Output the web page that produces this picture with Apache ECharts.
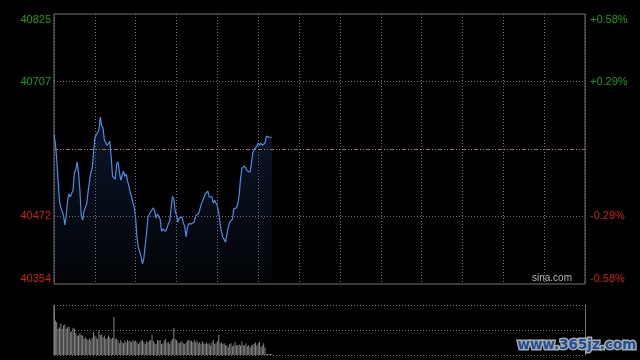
<!DOCTYPE html>
<html><head><meta charset="utf-8">
<script src="https://cdn.jsdelivr.net/npm/echarts@6/dist/echarts.min.js"></script>
<style>html,body{margin:0;padding:0;background:#000;}#c{width:640px;height:360px;}</style>
</head><body><div id="c"></div>
<script>
const prevClose = 40589.5;
const priceMin = 40354;
const priceMax = 40825;
const sessionMinutes = 390;
const tickValues = [40354, 40472, 40707, 40825];
const leftTickLabels = ['40354', '40472', '40707', '40825'];
const rightTickLabels = ['-0.58%', '-0.29%', '+0.29%', '+0.58%'];

const prices = [
  40614, 40600, 40572, 40535, 40500, 40487, 40481, 40473, 40457, 40474,
  40500, 40511, 40506, 40504, 40518, 40549, 40553, 40567, 40549, 40518,
  40474, 40466, 40481, 40483, 40494, 40514, 40532, 40548, 40555, 40581,
  40609, 40614, 40612, 40623, 40645, 40630, 40626, 40605, 40602, 40596,
  40595, 40603, 40576, 40542, 40539, 40537, 40563, 40567, 40551, 40535,
  40535, 40551, 40542, 40546, 40534, 40525, 40514, 40506, 40495, 40487,
  40467, 40434, 40417, 40410, 40401, 40389, 40399, 40422, 40443, 40471,
  40473, 40480, 40478, 40487, 40481, 40469, 40476, 40473, 40467, 40446,
  40450, 40448, 40446, 40452, 40459, 40464, 40485, 40507, 40502, 40481,
  40474, 40462, 40469, 40471, 40471, 40460, 40455, 40436, 40453, 40459,
  40457, 40459, 40462, 40462, 40473, 40471, 40476, 40483, 40492, 40494,
  40504, 40511, 40514, 40516, 40506, 40504, 40506, 40495, 40500, 40499,
  40490, 40478, 40459, 40445, 40436, 40433, 40427, 40441, 40453, 40462,
  40460, 40467, 40485, 40487, 40487, 40494, 40509, 40537, 40556, 40558,
  40560, 40562, 40551, 40548, 40549, 40565, 40583, 40588, 40591, 40595,
  40600, 40596, 40600, 40596, 40593, 40600, 40612, 40610, 40610, 40610, 40610
];

const volumes = [
  2000, 1380, 1310, 1050, 1100, 1250, 1050, 1180, 1220, 1050,
  1110, 1140, 920, 950, 1090, 1050, 870, 780, 780, 870,
  800, 780, 650, 710, 640, 600, 670, 600, 690, 910,
  780, 720, 640, 980, 800, 820, 710, 780, 640, 690,
  780, 710, 640, 690, 1520, 650, 650, 580, 470, 600,
  510, 470, 580, 510, 600, 550, 580, 510, 600, 550,
  580, 510, 440, 510, 580, 600, 510, 440, 550, 510,
  580, 600, 800, 560, 470, 440, 600, 580, 600, 440,
  470, 580, 640, 500, 520, 440, 560, 640, 1090, 640,
  600, 510, 470, 510, 550, 470, 440, 500, 580, 600,
  580, 560, 510, 600, 510, 580, 470, 520, 440, 550,
  470, 440, 510, 440, 470, 380, 510, 600, 440, 470,
  560, 800, 470, 500, 440, 470, 400, 380, 310, 430,
  470, 350, 400, 520, 380, 400, 420, 380, 540, 400,
  380, 470, 350, 400, 310, 380, 420, 440, 500, 380,
  470, 520, 310, 380, 470, 300, 40, 40, 40, 40, 40
];

const green = '#13a013';
const red = '#d11d0d';
const gridGray = '#707070';
const borderGray = '#747474';
const font = "'Liberation Sans', Arial, sans-serif";

const chart = echarts.init(document.getElementById('c'), null, {renderer: 'canvas'});
const labelColor = v => (Number(v) > prevClose ? green : red);

const option = {
  backgroundColor: '#000',
  animation: false,
  grid: [
    {left: 54, top: 14, width: 531, height: 270, show: true, borderColor: borderGray, borderWidth: 1, backgroundColor: 'transparent'},
    {left: 54, top: 305, width: 531, height: 50, show: false}
  ],
  xAxis: [
    {type: 'value', gridIndex: 0, min: 0, max: sessionMinutes, interval: 30,
      axisLine: {show: false}, axisTick: {show: false}, axisLabel: {show: false},
      splitLine: {show: true, lineStyle: {color: gridGray, width: 1, type: [1, 2]}}},
    {type: 'value', gridIndex: 1, min: 0, max: sessionMinutes, interval: 30,
      axisLine: {show: false}, axisTick: {show: false}, axisLabel: {show: false}, splitLine: {show: false}}
  ],
  yAxis: [
    {type: 'value', gridIndex: 0, min: priceMin, max: priceMax, position: 'left',
      axisLine: {show: false}, axisTick: {show: false}, splitLine: {show: false},
      axisLabel: {customValues: tickValues, formatter: v => leftTickLabels[tickValues.indexOf(Number(v))],
        color: labelColor, fontSize: 11, fontFamily: font, margin: 3,
        verticalAlignMinLabel: 'bottom', verticalAlignMaxLabel: 'top'}},
    {type: 'value', gridIndex: 0, min: priceMin, max: priceMax, position: 'right',
      axisLine: {show: false}, axisTick: {show: false}, splitLine: {show: false},
      axisLabel: {customValues: tickValues, formatter: v => rightTickLabels[tickValues.indexOf(Number(v))],
        color: labelColor, fontSize: 11, fontFamily: font, margin: 5,
        verticalAlignMinLabel: 'bottom', verticalAlignMaxLabel: 'top'}},
    {type: 'value', gridIndex: 1, min: 0, max: 2000, interval: 1000, position: 'left',
      axisLine: {show: true, onZero: false, lineStyle: {color: borderGray, width: 1}},
      axisTick: {show: false}, axisLabel: {show: false},
      splitLine: {show: true, lineStyle: {color: gridGray, width: 1, type: [1, 2]}}},
    {type: 'value', gridIndex: 1, min: 0, max: 2000, interval: 1000, position: 'right',
      axisLine: {show: true, onZero: false, lineStyle: {color: borderGray, width: 1}},
      axisTick: {show: false}, axisLabel: {show: false}, splitLine: {show: false}}
  ],
  series: [
    {
      type: 'line', xAxisIndex: 0, yAxisIndex: 0,
      data: prices.map((p, i) => [i, p]),
      showSymbol: false, symbol: 'none', smooth: false,
      lineStyle: {color: '#4b8ce6', width: 1.2},
      areaStyle: {origin: 'start', color: {type: 'linear', x: 0, y: 0, x2: 0, y2: 1,
        colorStops: [{offset: 0, color: 'rgba(45,85,155,0.38)'}, {offset: 1, color: 'rgba(45,85,155,0.06)'}]}},
      markLine: {
        silent: true, symbol: 'none', label: {show: false}, animation: false,
        data: [
          {yAxis: tickValues[1], lineStyle: {color: gridGray, width: 1, type: [1, 2]}},
          {yAxis: tickValues[2], lineStyle: {color: gridGray, width: 1, type: [1, 2]}},
          {yAxis: prevClose, lineStyle: {color: '#8a8a8a', width: 1, type: [1, 2]}},
          {yAxis: prevClose, lineStyle: {color: '#b0683a', width: 1, type: [3, 9]}}
        ]
      },
      z: 3
    },
    {
      type: 'bar', xAxisIndex: 1, yAxisIndex: 2,
      data: volumes.map((v, i) => [i, v]),
      barWidth: 1,
      itemStyle: {color: '#858585'},
      z: 3
    }
  ],
  graphic: [
    {type: 'text', left: 532, top: 273, silent: true,
      style: {text: 'sina.com', fill: '#b4b4b4', font: "10px 'Liberation Sans', Arial, sans-serif"}},
    {type: 'text', left: 516, top: 337, silent: true, z: 100,
      style: {text: 'www.365jz.com', fill: '#1d4f9e', stroke: '#a8a8a8', lineWidth: 3, strokeFirst: true,
        font: "bold 13.5px 'DejaVu Sans', sans-serif"}}
  ]
};
chart.setOption(option);
</script>
</body></html>
